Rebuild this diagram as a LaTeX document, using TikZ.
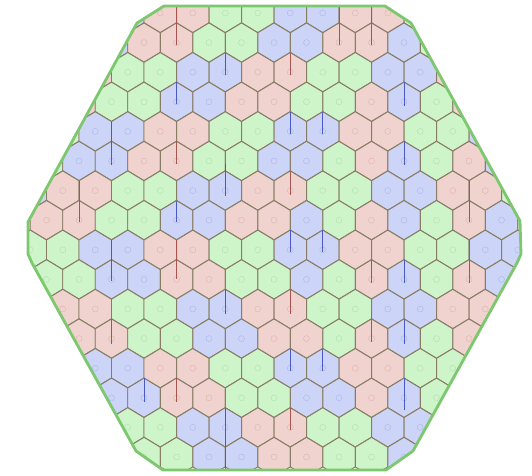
\documentclass[tikz,border=0pt]{standalone}
\usetikzlibrary{calc}
\definecolor{cellR}{RGB}{240,210,206}
\definecolor{cellG}{RGB}{206,245,202}
\definecolor{cellB}{RGB}{204,212,247}
\definecolor{bondR}{RGB}{165,85,80}
\definecolor{bondG}{RGB}{80,150,80}
\definecolor{bondB}{RGB}{75,90,195}
\definecolor{wallc}{RGB}{135,124,100}
\definecolor{rimc}{RGB}{125,200,110}

\begin{document}
\begin{tikzpicture}[x=0.03cm, y=-0.03cm,
    wall/.style={draw=wallc, line width=0.85pt, line join=round},
    pin/.style={draw=#1, opacity=0.25, line width=0.3pt},
    bond/.style={draw=#1, line width=0.75pt},
    rim/.style={draw=rimc, line width=2.4pt, line join=round}
]
    \useasboundingbox (0,0) rectangle (532,476);
    % outer can
    \def\rimpath{(164,6) -- (385,6) -- (411,23) -- (520,221) -- (521,254) -- (517,263)
        -- (413,451) -- (386,470) -- (163,470) -- (136,451) -- (32,263) -- (28,254)
        -- (28,222) -- (137,23) -- cycle}
    \begin{scope}
        \clip \rimpath;
        \foreach \r/\row in {
            0/{G,G,B,B,R,R,G,G,B,B,R,R,G,G,B,B},
            1/{G,G,B,B,R,R,G,G,B,B,R,R,B,G,R,B,G},
            2/{B,R,R,G,G,B,B,R,R,G,G,B,B,R,R,G},
            3/{B,R,R,G,G,B,B,R,R,G,G,R,B,G,R,B,G},
            4/{G,G,B,B,R,R,G,G,B,B,R,R,G,G,B,B},
            5/{G,G,B,B,R,R,G,G,B,B,G,R,B,G,R,B,G},
            6/{B,R,R,G,G,B,B,R,R,G,G,B,B,R,R,G},
            7/{B,R,R,G,G,B,B,R,R,B,G,R,B,G,R,B,G},
            8/{G,G,B,B,R,R,G,G,B,B,R,R,G,G,B,B},
            9/{R,G,G,B,B,R,R,G,G,B,G,R,B,G,R,B,G},
            10/{B,R,R,G,G,B,B,R,R,G,G,B,B,R,R,G},
            11/{B,B,R,R,G,G,B,B,R,R,G,R,B,G,R,B,G},
            12/{G,G,B,B,R,R,G,G,B,B,R,R,G,G,B,B},
            13/{R,G,G,B,B,R,R,G,G,B,B,R,B,G,R,B,G},
            14/{B,R,R,G,G,B,B,R,R,G,G,B,B,R,R,G},
            15/{B,B,R,R,G,G,B,B,R,R,G,G,B,G,R,B,G}} {
            \pgfmathsetmacro\cy{13+29.6*\r}
            \pgfmathsetmacro\xo{ifthenelse(mod(\r,2)==1,14,30.25)}
            \foreach \c [count=\k from 0] in \row {
                \pgfmathsetmacro\cx{\xo+32.5*\k}
                \path[wall, fill=cell\c] (\cx,\cy) +(0,-19.73) -- +(16.25,-9.87) -- +(16.25,9.87)
                    -- +(0,19.73) -- +(-16.25,9.87) -- +(-16.25,-9.87) -- cycle;
                \path[pin=bond\c] (\cx,\cy) circle (3);
            }
        }
        % rods: row / column / colour / reach up / reach down
        \foreach \r/\k/\c/\up/\dn in {
            1/5/R/39.5/2, 1/10/R/39.5/2, 1/11/R/39.5/2,
            2/6/B/19.7/3, 2/8/R/19.7/3,
            3/5/B/19.7/2, 3/12/B/19.7/4,
            4/8/B/19.7/3, 4/9/B/19.7/3,
            5/3/B/39.5/4, 5/5/R/19.7/3, 5/12/B/19.7/4,
            6/6/B/27/5, 6/8/R/19.7/4,
            7/2/R/39.5/2, 7/5/B/19.7/2, 7/14/R/39.5/2,
            8/8/B/19.7/2, 8/9/B/19.7/2,
            9/3/B/39.5/2, 9/5/R/39.5/0, 9/11/R/19.7/4, 9/12/B/19.7/4, 9/14/R/39.5/4,
            10/6/B/19.7/5, 10/8/R/19.7/5,
            11/3/R/19.7/5, 11/11/R/19.7/3, 11/12/B/19.7/5,
            12/8/B/19.7/3, 12/9/B/19.7/3,
            13/4/B/19.7/4, 13/5/R/19.7/4, 13/12/B/19.7/12,
            14/6/B/19.7/42, 14/8/R/19.7/3} {
            \pgfmathsetmacro\cy{13+29.6*\r}
            \pgfmathsetmacro\xo{ifthenelse(mod(\r,2)==1,14,30.25)}
            \pgfmathsetmacro\cx{\xo+32.5*\k}
            \draw[bond=bond\c] (\cx,\cy-\up) -- (\cx,\cy+\dn);
        }
    \end{scope}
    \draw[rim] \rimpath;
\end{tikzpicture}
\end{document}
